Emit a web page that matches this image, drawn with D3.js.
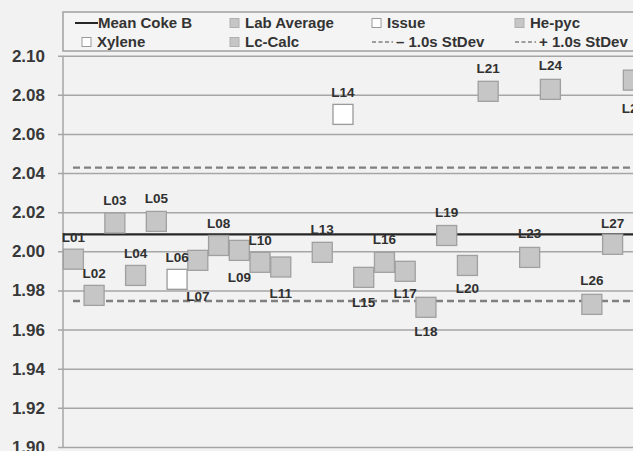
<!DOCTYPE html>
<html><head><meta charset="utf-8">
<script src="https://cdn.jsdelivr.net/npm/d3@7"></script>
<style>
html,body{margin:0;padding:0;background:#f2f2f2;overflow:hidden;}
svg{display:block;font-family:"Liberation Sans",Arial,sans-serif;}
</style></head>
<body>
<svg id="chart" width="633" height="451"></svg>
<script>
// ---- data ----
const labs = ["L01","L02","L03","L04","L05","L06","L07","L08","L09","L10","L11","L12","L13","L14",
  "L15","L16","L17","L18","L19","L20","L21","L22","L23","L24","L25","L26","L27","L28"];
const density = [1.996,1.9775,2.0145,1.9877,2.0153,1.9857,1.9954,2.003,2.0005,1.9944,1.992,null,1.9995,2.070,
  1.9867,1.9944,1.9898,1.9714,2.0081,1.9928,2.0818,null,1.9969,2.0828,null,1.9729,2.0036,2.0875];
const method = ["He-pyc","He-pyc","He-pyc","He-pyc","He-pyc","Xylene","He-pyc","He-pyc","He-pyc","He-pyc","He-pyc",null,"He-pyc","Issue",
  "He-pyc","He-pyc","He-pyc","He-pyc","He-pyc","He-pyc","He-pyc",null,"He-pyc","He-pyc",null,"He-pyc","He-pyc","He-pyc"];
const meanCokeB = 2.0087;
const stdDev = 0.0341;
const yTicks = [1.90,1.92,1.94,1.96,1.98,2.00,2.02,2.04,2.06,2.08,2.10];
// label offsets (style): vertical pixel offset of each label from its marker
const labelDy = [-22,-22,-23,-22,-23,-22,36,-22,27,-22,26,0,-23,-22,
  25,-23,22,24,-23,23,-23,0,-24,-24,0,-24,-21,28];
const legendItems = [
  {name:"Mean Coke B", kind:"line"},
  {name:"Lab Average", kind:"gray"},
  {name:"Issue", kind:"white"},
  {name:"He-pyc", kind:"gray"},
  {name:"Xylene", kind:"white"},
  {name:"Lc-Calc", kind:"gray"},
  {name:"\u2013 1.0s  StDev", kind:"dash"},
  {name:"+ 1.0s StDev", kind:"dash"}
];

// ---- chart ----
const svg = d3.select("#chart");
const plotLeft = 63, plotTop = 55.7, plotBottom = 447;
const step = 20.74;
const x = d3.scaleBand().domain(labs).range([plotLeft, plotLeft + labs.length*step]).padding(0);
const y = d3.scaleLinear().domain([1.90, 2.10]).range([plotBottom, plotTop]);
const gridColor = "#a6a6a6";

// gridlines + ticks
const yAxis = d3.axisLeft(y).tickValues(yTicks).tickFormat(d3.format(".2f"))
  .tickSize(-(640-plotLeft)).tickPadding(18);
const gy = svg.append("g").attr("transform",`translate(${plotLeft},0)`).call(yAxis);
gy.select(".domain").remove();
gy.selectAll(".tick line").attr("x1",-5).attr("stroke",gridColor).attr("stroke-width",1.5);
gy.selectAll(".tick text").attr("fill","#383838").attr("font-size","17px").attr("font-weight","bold")
  .attr("font-family","Liberation Sans, Arial, sans-serif").attr("x",-18);
// y axis line
svg.append("line").attr("x1",plotLeft).attr("x2",plotLeft).attr("y1",plotTop).attr("y2",plotBottom)
  .attr("stroke",gridColor).attr("stroke-width",1.5);

// stdev lines
[meanCokeB - stdDev, meanCokeB + stdDev].forEach(v=>{
  svg.append("line").attr("x1",x(labs[0])+10).attr("x2",640)
    .attr("y1",y(v)).attr("y2",y(v))
    .attr("stroke","#808080").attr("stroke-width",2.4).attr("stroke-dasharray","7,4");
});
// mean line
svg.append("line").attr("x1",x(labs[0])).attr("x2",640)
  .attr("y1",y(meanCokeB)).attr("y2",y(meanCokeB))
  .attr("stroke","#262626").attr("stroke-width",2.2);

const pts = labs.map((l,i)=>({lab:l, v:density[i], m:method[i], dy:labelDy[i]})).filter(d=>d.v!=null);
const ms = 20;
svg.append("g").selectAll("rect").data(pts).join("rect")
  .attr("x",d=>x(d.lab)+x.bandwidth()/2-ms/2)
  .attr("y",d=>y(d.v)-ms/2)
  .attr("width",ms).attr("height",ms)
  .attr("fill",d=>(d.m==="Issue"||d.m==="Xylene")?"#ffffff":"#c6c6c6")
  .attr("stroke",d=>(d.m==="Issue"||d.m==="Xylene")?"#9a9a9a":"#a0a0a0")
  .attr("stroke-width",1.3);

svg.append("g").selectAll("text").data(pts).join("text")
  .attr("x",d=>x(d.lab)+x.bandwidth()/2)
  .attr("y",d=>y(d.v)+d.dy)
  .attr("dy","0.35em")
  .attr("text-anchor","middle")
  .attr("font-size","13.5px").attr("font-weight","bold").attr("fill","#303030")
  .text(d=>d.lab);

// legend
const lg = svg.append("g");
lg.append("rect").attr("x",63).attr("y",12).attr("width",600).attr("height",39)
  .attr("fill","#f4f4f4").attr("stroke","#a0a0a0").attr("stroke-width",1.5);
const colX = [75, 230, 372, 515];
const rowY = [23, 42];
legendItems.forEach((it,i)=>{
  const cx = colX[i%4], cy = rowY[Math.floor(i/4)];
  const g = lg.append("g");
  let tx;
  if(it.kind==="line"){
    g.append("line").attr("x1",cx).attr("x2",cx+23).attr("y1",cy).attr("y2",cy)
      .attr("stroke","#262626").attr("stroke-width",2);
    tx = cx+23;
  } else if(it.kind==="dash"){
    g.append("line").attr("x1",cx).attr("x2",cx+21).attr("y1",cy).attr("y2",cy)
      .attr("stroke","#808080").attr("stroke-width",1.6).attr("stroke-dasharray","4,2.5");
    tx = cx+24;
  } else {
    const sx = it.name==="Xylene" ? cx+7 : cx;
    g.append("rect").attr("x",sx).attr("y",cy-4.5).attr("width",9).attr("height",9)
      .attr("fill",it.kind==="white"?"#ffffff":"#c6c6c6")
      .attr("stroke",it.kind==="white"?"#9a9a9a":"#b0b0b0");
    tx = sx+15;
  }
  g.append("text").attr("x",tx).attr("y",cy).attr("dy","0.35em")
    .attr("font-size","15px").attr("font-weight","bold").attr("fill","#333")
    .text(it.name);
});
</script>
</body></html>
